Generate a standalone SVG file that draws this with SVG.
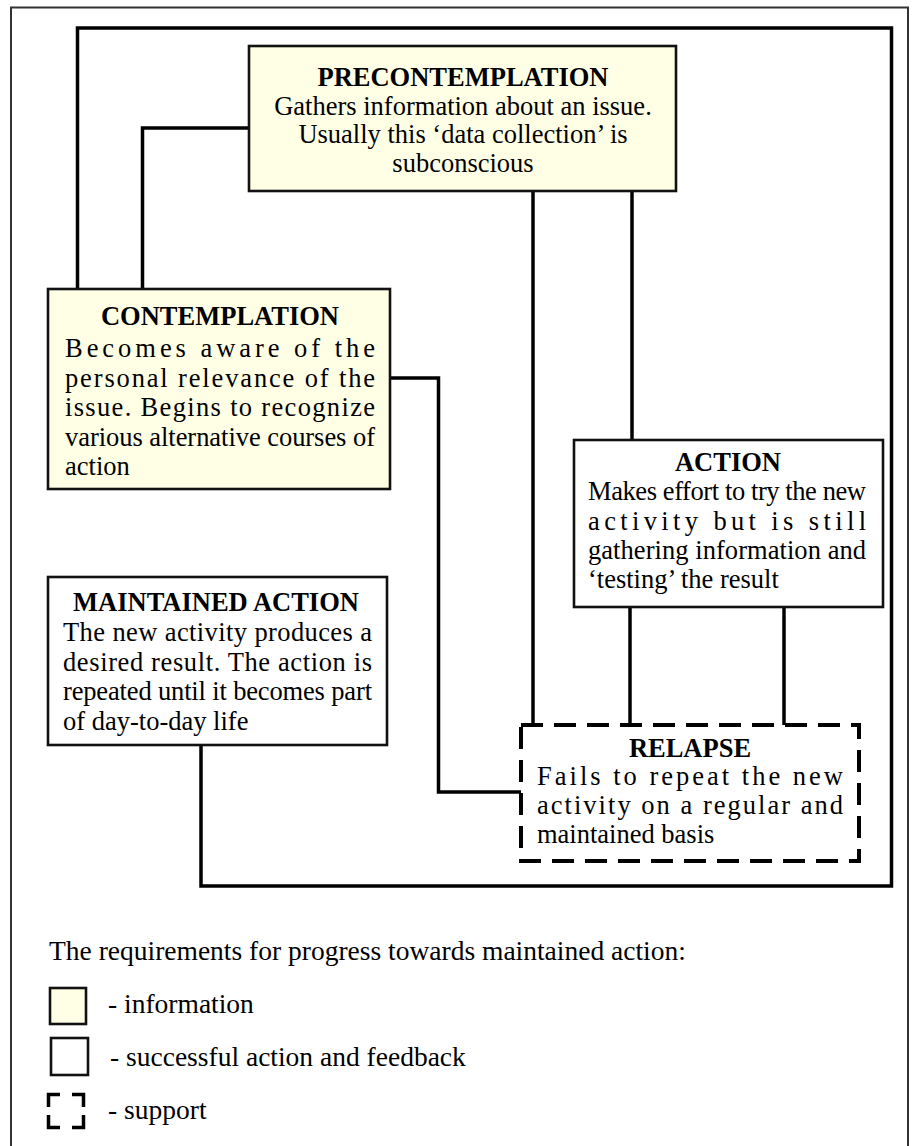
<svg xmlns="http://www.w3.org/2000/svg" width="914" height="1146" viewBox="0 0 914 1146">
<style>
text{font-family:"Liberation Serif","Times New Roman",serif;font-size:26.5px;fill:#000}
.t{font-weight:bold;text-anchor:middle}
.c{text-anchor:middle}
.lg{font-size:27.5px}
.box{stroke:#111;stroke-width:2.6;fill:#fff}
.info{fill:#ffffe6}
.ln{fill:none;stroke:#000;stroke-width:3.5}
.dash{fill:#fff;stroke:#000;stroke-width:4;stroke-dasharray:22 11}
.br{fill:none;stroke:#000;stroke-width:3.5}
</style>
<rect width="914" height="1146" fill="#fff"/>
<path d="M11,1146 V7.5 H908 V1146" fill="none" stroke="#333" stroke-width="2"/>
<g id="connectors">
<path class="ln" d="M77.5,289 V28 H891.5 V886 H201 V745"/>
<path class="ln" d="M142.5,289 V128 H249"/>
<path class="ln" d="M533,192 V725"/>
<path class="ln" d="M632,192 V440"/>
<path class="ln" d="M630,607 V725"/>
<path class="ln" d="M784,607 V725"/>
<path class="ln" d="M390,378 H438.5 V792 H521"/>
</g>
<g id="precontemplation">
<rect class="box info" x="249" y="46" width="427" height="145"/>
<text class="t" x="463" y="86">PRECONTEMPLATION</text>
<text class="c" x="463" y="114.5">Gathers information about an issue.</text>
<text class="c" x="463" y="143">Usually this ‘data collection’ is</text>
<text class="c" x="463" y="171.5">subconscious</text>
</g>
<g id="contemplation">
<rect class="box info" x="48" y="289" width="342" height="200"/>
<text class="t" x="220" y="325">CONTEMPLATION</text>
<text x="65" y="357" textLength="310" lengthAdjust="spacing">Becomes aware of the</text>
<text x="65" y="386.5" textLength="310" lengthAdjust="spacing">personal relevance of the</text>
<text x="65" y="416" textLength="310" lengthAdjust="spacing">issue. Begins to recognize</text>
<text x="65" y="445.5" textLength="310" lengthAdjust="spacing">various alternative courses of</text>
<text x="65" y="475">action</text>
</g>
<g id="action">
<rect class="box" x="574" y="440" width="309" height="167"/>
<text class="t" x="728" y="471">ACTION</text>
<text x="588" y="500" textLength="278" lengthAdjust="spacing">Makes effort to try the new</text>
<text x="588" y="530" textLength="278" lengthAdjust="spacing">activity but is still</text>
<text x="588" y="559" textLength="278" lengthAdjust="spacing">gathering information and</text>
<text x="588" y="588">‘testing’ the result</text>
</g>
<g id="maintained-action">
<rect class="box" x="48" y="577" width="339" height="168"/>
<text class="t" x="216" y="611">MAINTAINED ACTION</text>
<text x="63" y="641" textLength="309" lengthAdjust="spacing">The new activity produces a</text>
<text x="63" y="670.5" textLength="309" lengthAdjust="spacing">desired result. The action is</text>
<text x="63" y="700" textLength="309" lengthAdjust="spacing">repeated until it becomes part</text>
<text x="63" y="729.5">of day-to-day life</text>
</g>
<g id="relapse">
<rect class="dash" x="521" y="725" width="338" height="136"/>
<text class="t" x="690" y="757">RELAPSE</text>
<text x="537" y="785" textLength="306" lengthAdjust="spacing">Fails to repeat the new</text>
<text x="537" y="814" textLength="306" lengthAdjust="spacing">activity on a regular and</text>
<text x="537" y="843">maintained basis</text>
</g>
<g id="legend">
<text class="lg" x="49" y="960">The requirements for progress towards maintained action:</text>
<rect class="box info" x="50" y="988" width="36" height="36"/>
<text class="lg" x="108" y="1013">- information</text>
<rect class="box" x="51" y="1038" width="37" height="37"/>
<text class="lg" x="110" y="1066">- successful action and feedback</text>
<path class="br" d="M48.5,1107 V1094.5 H60 M72,1094.5 H83.5 V1107 M48.5,1115 V1127.5 H60 M72,1127.5 H83.5 V1115"/>
<text class="lg" x="108" y="1119">- support</text>
</g>
</svg>
